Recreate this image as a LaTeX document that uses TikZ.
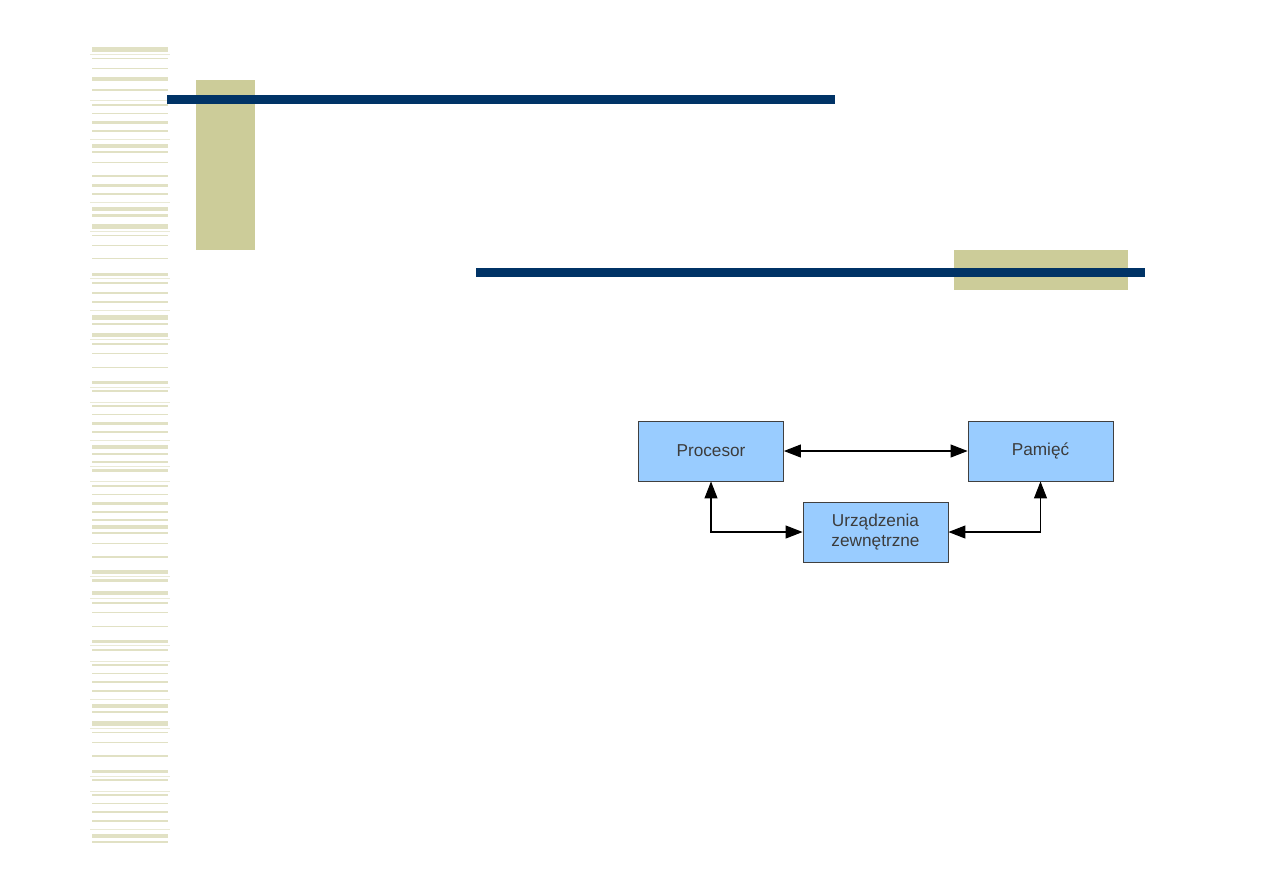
\documentclass[tikz,border=0pt]{standalone}
\usepackage{fontspec}
\setmainfont{Liberation Sans}
\usepackage{tikz}
\usetikzlibrary{arrows.meta}

\definecolor{navybar}{RGB}{0,51,102}
\definecolor{olive}{RGB}{204,204,153}
\definecolor{stripe}{RGB}{225,225,196}
\definecolor{stripelight}{RGB}{234,234,214}
\definecolor{boxblue}{RGB}{153,204,255}
\definecolor{boxtext}{RGB}{60,60,60}

\begin{document}
\begin{tikzpicture}[x=0.02cm, y=-0.02cm,
    unit/.style = {draw=black!75, line width=0.5pt, fill=boxblue, text=boxtext,
        minimum width=2.9cm, minimum height=1.2cm, inner sep=0pt, align=center,
        font=\fontsize{9.8}{11.5}\selectfont},
    bus/.style = {line width=0.6pt, {Triangle[length=0.34cm,width=0.26cm]}-{Triangle[length=0.34cm,width=0.26cm]}}]
    \useasboundingbox (0,0) rectangle (1263,893);
    % stripes on the left
    \foreach \t/\b in {47/52,57.5/59,67.5/69,77/81,89/91,104/106,112.5/114,121/124,130/131.5,
        144/147.5,151/153,161.5/163,175/177,184/187,193/195,207/211,214/217,224/229,
        234.5/236,244.5/246,257.5/259,273/276,282/284,292/294,301/303,315/320,323/325,
        333/337,343/345,352.5/354,366.5/368,381/384,390/392,405/407,413.5/415,422/425,
        431/433,445/449,453/455,461/463,469/472,485/487,493.5/495,502/505,511/513,
        519/521,525/529,532/534,542.5/544,556/558,570/574,579/582,591/595,602/603.5,
        611.5/613,625.5/627,640/643,649/651,664/666,672.5/674,681/683,690/692,704/708,
        711/713,721/726,731.5/733,741.5/743,755/757,770/773,779/781,794/796,802.5/804,
        811/813,820/822,834/838,841/843}
        \path[fill=stripe] (92,\t) rectangle (168,\b);
    \foreach \y in {54,100,139,202,231,278,310,339,387,402,440,466,481,576,598,645,
        661,699,728,776,791,829}
        \path[draw=stripelight, line width=0.5pt] (90,\y) to (170,\y);
    % olive blocks
    \path[fill=olive] (196,80) rectangle (255,250);
    \path[fill=olive] (954,250) rectangle (1128,290);
    % title bars
    \path[fill=navybar] (167,95) rectangle (835,104);
    \path[fill=navybar] (476,268) rectangle (1145,277);
    % units
    \node[unit] (proc) at (711,451) {Procesor};
    \node[unit] (pam) at (1040.5,451) {Pamięć};
    \node[unit] (urz) at (875.5,532) {Urządzenia\\zewnętrzne};
    % buses
    \path[draw, bus] (proc.east) to (pam.west);
    \path[draw, bus] (proc.south) |- (urz.west);
    \path[draw, bus] (pam.south) |- (urz.east);
\end{tikzpicture}
\end{document}
